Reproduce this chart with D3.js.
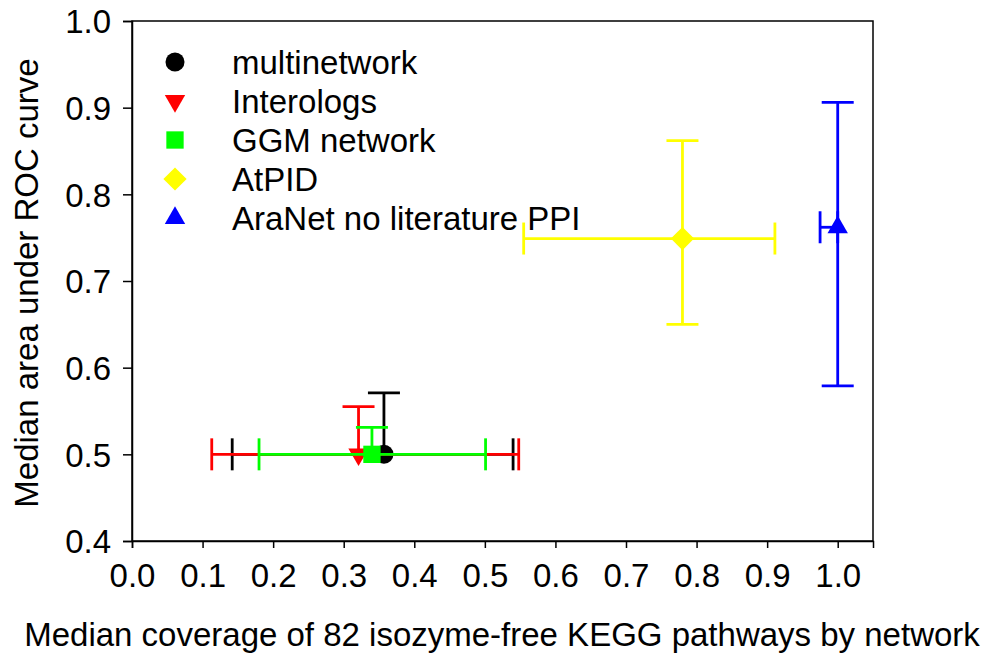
<!DOCTYPE html>
<html>
<head>
<meta charset="utf-8">
<script src="https://cdn.jsdelivr.net/npm/d3@7"></script>
<style>
  body { margin: 0; background: #fff; }
  text { font-family: "Liberation Sans", Arial, sans-serif; fill: #000; }
</style>
</head>
<body>
<svg id="chart" width="985" height="658"></svg>
<script>
// series
const names = ['multinetwork', 'Interologs', 'GGM network', 'AtPID', 'AraNet no literature PPI'];
const colors = ['#000000', '#ff0000', '#00ff00', '#ffff00', '#0000ff'];
const shapes = ['circle', 'down', 'square', 'diamond', 'up'];
const coverage = [0.357, 0.321, 0.34, 0.78, 1.0];
const coverageLo = [0.142, 0.113, 0.18, 0.555, 0.975];
const coverageHi = [0.540, 0.548, 0.501, 0.911, 1.0];
const auc = [0.5, 0.5, 0.5, 0.749, 0.762];
const aucLo = [null, null, null, 0.65, 0.579];
const aucHi = [0.571, 0.555, 0.531, 0.862, 0.906];

const xTicks = d3.range(0, 11).map(i => i / 10);
const yTicks = d3.range(4, 11).map(i => i / 10);

const svg = d3.select('#chart');
const margin = { left: 132, right: 112, top: 21, bottom: 117 };
const width = 985 - margin.left - margin.right;
const height = 658 - margin.top - margin.bottom;

const x = d3.scaleLinear().domain([0, 1.05]).range([0, width]);
const y = d3.scaleLinear().domain([0.4, 1.0]).range([height, 0]);

const g = svg.append('g').attr('transform', `translate(${margin.left},${margin.top})`);

// frame
g.append('rect')
  .attr('width', width).attr('height', height)
  .attr('fill', 'none').attr('stroke', '#000').attr('stroke-width', 1.5);

const xAxis = g.append('g')
  .attr('transform', `translate(0,${height})`)
  .call(d3.axisBottom(x).tickValues(xTicks).tickFormat(d3.format('.1f')).tickSize(7).tickPadding(16));
const yAxis = g.append('g')
  .call(d3.axisLeft(y).tickValues(yTicks).tickFormat(d3.format('.1f')).tickSize(9).tickPadding(12));

[xAxis, yAxis].forEach(ax => {
  ax.select('.domain').attr('stroke', '#000').attr('stroke-width', 1.5);
  ax.selectAll('.tick line').attr('stroke', '#000').attr('stroke-width', 1.5);
  ax.selectAll('.tick text')
    .style('font-family', '"Liberation Sans", Arial, sans-serif')
    .style('font-size', '33px').attr('fill', '#000');
});
xAxis.selectAll('.tick text').attr('dy', '0.71em');
yAxis.selectAll('.tick text').attr('dy', '0.36em');

const symbolFor = shape => {
  switch (shape) {
    case 'circle': return d3.symbol(d3.symbolCircle, 285)();
    case 'square': return d3.symbol(d3.symbolSquare, 300)();
    case 'diamond': return d3.symbol(d3.symbolSquare, 270)();
    default: return d3.symbol(d3.symbolTriangle, 180)();
  }
};
const rotateFor = shape => shape === 'down' ? 180 : shape === 'diamond' ? 45 : 0;

const cap = 16;
const lw = 2.8;

names.forEach((name, i) => {
  const s = g.append('g').attr('class', 'series');
  const col = colors[i];
  const cx = x(coverage[i]);
  const cy = y(auc[i]);

  // horizontal error bar
  s.append('line')
    .attr('x1', x(coverageLo[i])).attr('x2', x(coverageHi[i]))
    .attr('y1', cy).attr('y2', cy)
    .attr('stroke', col).attr('stroke-width', lw);
  [coverageLo[i], coverageHi[i]].forEach(v => {
    s.append('line')
      .attr('x1', x(v)).attr('x2', x(v))
      .attr('y1', cy - cap).attr('y2', cy + cap)
      .attr('stroke', col).attr('stroke-width', lw);
  });

  // vertical error bar
  const lo = aucLo[i] == null ? auc[i] : aucLo[i];
  s.append('line')
    .attr('x1', cx).attr('x2', cx)
    .attr('y1', y(lo)).attr('y2', y(aucHi[i]))
    .attr('stroke', col).attr('stroke-width', lw);
  [aucLo[i], aucHi[i]].filter(v => v != null).forEach(v => {
    s.append('line')
      .attr('x1', cx - cap).attr('x2', cx + cap)
      .attr('y1', y(v)).attr('y2', y(v))
      .attr('stroke', col).attr('stroke-width', lw);
  });

  s.append('path')
    .attr('d', symbolFor(shapes[i]))
    .attr('transform', `translate(${cx},${cy}) rotate(${rotateFor(shapes[i])})`)
    .attr('fill', col);
});

// legend
const legend = g.append('g').attr('transform', 'translate(43,41)');
names.forEach((name, i) => {
  const row = legend.append('g').attr('transform', `translate(0,${i * 39})`);
  row.append('path')
    .attr('d', symbolFor(shapes[i]))
    .attr('transform', `rotate(${rotateFor(shapes[i])})`)
    .attr('fill', colors[i]);
  row.append('text')
    .attr('x', 57).attr('dy', '0.36em')
    .style('font-size', '33px')
    .text(name);
});

// axis titles
svg.append('text')
  .attr('x', 502).attr('y', 646)
  .attr('text-anchor', 'middle')
  .style('font-size', '33px')
  .text('Median coverage of 82 isozyme-free KEGG pathways by network');

svg.append('text')
  .attr('transform', 'translate(38,283) rotate(-90)')
  .attr('text-anchor', 'middle')
  .style('font-size', '33px')
  .text('Median area under ROC curve');
</script>
</body>
</html>
